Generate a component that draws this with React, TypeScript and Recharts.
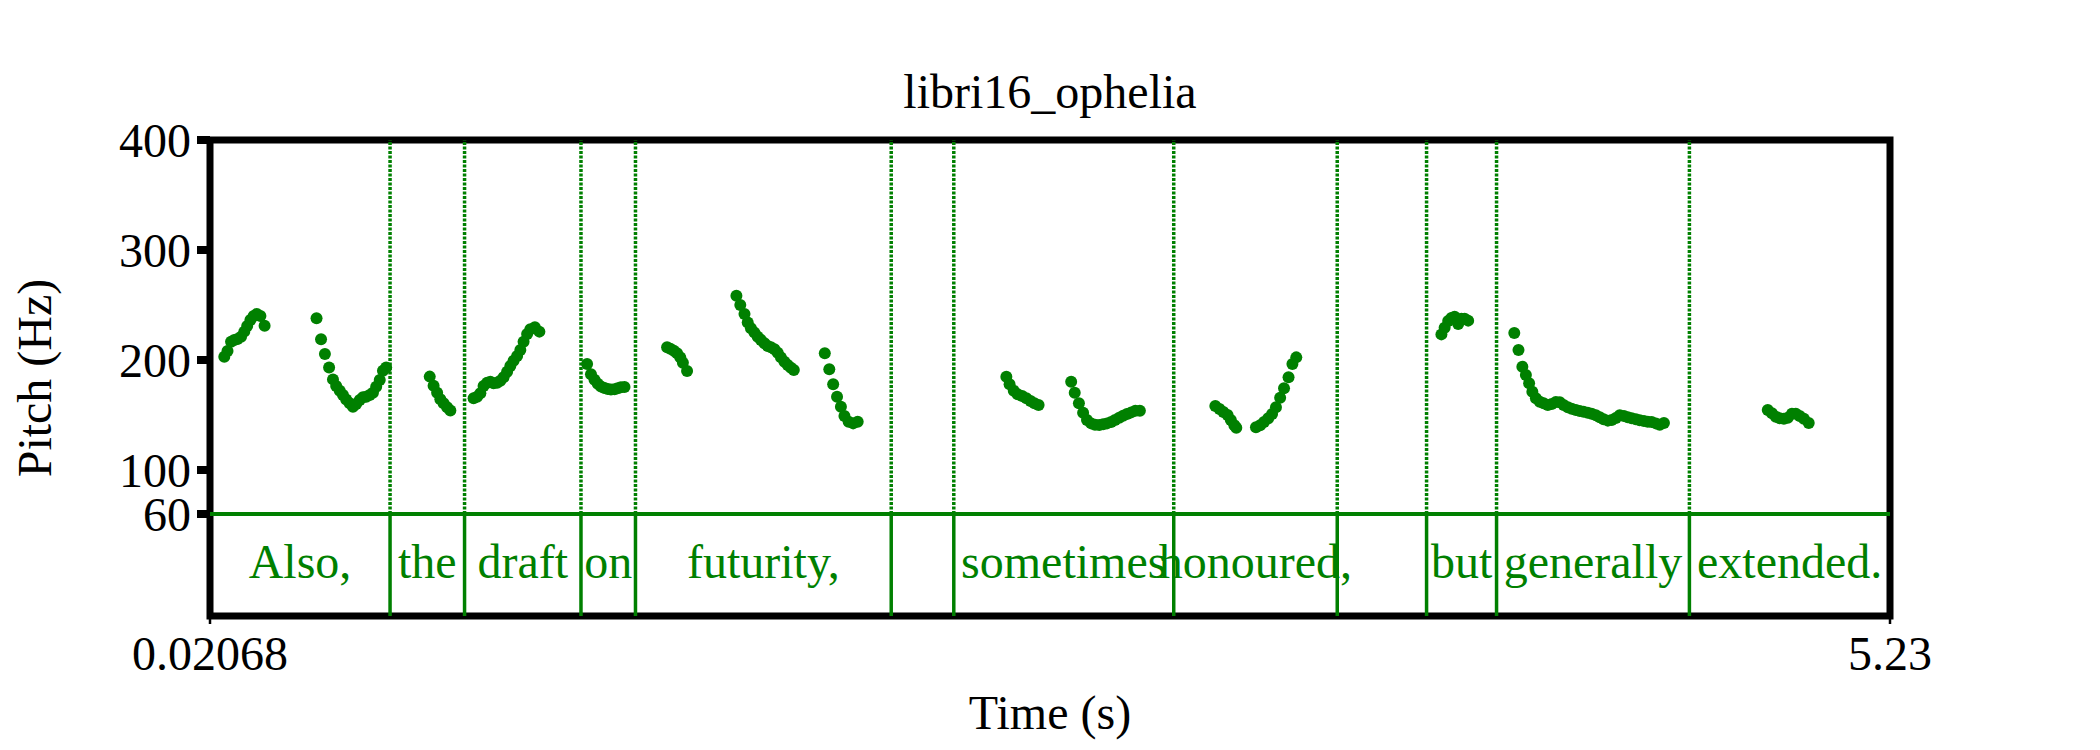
import { ScatterChart, Scatter, XAxis, YAxis, ReferenceLine, ReferenceArea } from "recharts";

const xMin = 0.02068;
const xMax = 5.23;
const yMin = -32.7;
const yMax = 400;
const tierTop = 60;

const yTicks = [60, 100, 200, 300, 400];
const xTicks = [0.02068, 5.23];

const boundaries = [0.579, 0.81, 1.171, 1.34, 2.133, 2.327, 3.009, 3.516, 3.793, 4.01, 4.608];
const words = ["Also,", "the", "draft", "on", "futurity,", "", "sometimes", "honoured,", "", "but", "generally", "extended."];

// pitch contour pieces: [time s, F0 Hz]
const alsoA = [[0.065, 203.0], [0.075, 208.2], [0.086, 216.7], [0.096, 218.2], [0.106, 219.1], [0.117, 221.2], [0.127, 225.8], [0.136, 230.9], [0.146, 236.4], [0.156, 240.0], [0.166, 241.8], [0.177, 240.0], [0.19, 231.2]];
const alsoB = [[0.351, 237.9], [0.365, 218.8], [0.377, 205.5], [0.39, 193.3], [0.402, 182.4], [0.412, 176.4], [0.423, 172.1], [0.433, 168.2], [0.443, 164.2], [0.454, 160.6], [0.464, 157.6], [0.474, 160.0], [0.485, 163.6], [0.495, 166.1], [0.505, 166.7], [0.516, 168.2], [0.526, 170.3], [0.536, 175.8], [0.547, 181.8], [0.557, 190.3], [0.567, 193.3]];
const theSeg = [[0.702, 184.9], [0.714, 176.7], [0.725, 170.3], [0.735, 164.3], [0.745, 160.6], [0.756, 157.0], [0.766, 154.0]];
const draft = [[0.838, 165.2], [0.849, 166.7], [0.859, 169.7], [0.869, 176.4], [0.88, 179.4], [0.89, 180.3], [0.9, 178.8], [0.911, 179.4], [0.921, 181.2], [0.931, 184.3], [0.942, 189.4], [0.952, 194.5], [0.962, 199.4], [0.973, 203.6], [0.983, 209.1], [0.993, 216.7], [1.004, 223.6], [1.014, 227.9], [1.028, 229.7], [1.042, 225.8]];
const onSeg = [[1.19, 196.4], [1.202, 187.0], [1.213, 182.0], [1.223, 178.5], [1.233, 176.0], [1.244, 174.5], [1.254, 173.6], [1.264, 173.3], [1.275, 173.5], [1.285, 174.3], [1.295, 175.3], [1.306, 175.5]];
const futurityA = [[1.438, 211.5], [1.448, 210.3], [1.459, 208.5], [1.469, 206.1], [1.479, 202.4], [1.487, 197.6], [1.5, 190.0]];
const futurityB = [[1.653, 258.5], [1.665, 250.0], [1.678, 241.8], [1.688, 234.0], [1.698, 228.8], [1.709, 224.9], [1.719, 221.2], [1.729, 218.2], [1.74, 215.2], [1.75, 212.7], [1.76, 211.5], [1.771, 209.7], [1.781, 206.7], [1.791, 202.4], [1.802, 198.5], [1.812, 195.5], [1.822, 193.0], [1.831, 190.9]];
const futurityC = [[1.927, 206.1], [1.941, 191.5], [1.953, 177.9], [1.965, 166.7], [1.977, 157.6], [1.988, 149.1], [2.001, 143.9], [2.015, 142.4], [2.029, 143.9]];
const sometimesA = [[2.49, 184.8], [2.5, 177.9], [2.513, 172.1], [2.525, 168.8], [2.539, 167.3], [2.552, 165.2], [2.565, 162.7], [2.577, 160.6], [2.59, 159.1]];
const sometimesB = [[2.691, 180.3], [2.702, 170.3], [2.715, 160.6], [2.728, 152.1], [2.74, 145.5], [2.753, 142.4], [2.765, 141.2], [2.778, 140.9], [2.79, 141.5], [2.802, 142.4], [2.815, 143.6], [2.827, 145.5], [2.84, 147.6], [2.852, 149.4], [2.864, 150.9], [2.877, 152.4], [2.89, 153.9], [2.904, 153.9]];
const honouredA = [[3.138, 158.2], [3.151, 155.5], [3.163, 152.7], [3.176, 150.0], [3.186, 145.5], [3.197, 140.6], [3.203, 138.5]];
const honouredB = [[3.264, 138.8], [3.277, 140.6], [3.289, 143.6], [3.302, 147.0], [3.314, 150.9], [3.326, 157.0], [3.339, 165.8], [3.351, 174.3], [3.365, 184.3], [3.377, 196.4], [3.389, 202.4]];
const butSeg = [[3.839, 223.3], [3.849, 229.4], [3.86, 235.5], [3.87, 238.2], [3.88, 239.4], [3.891, 232.7], [3.901, 237.6], [3.911, 237.6], [3.922, 235.8]];
const generally = [[4.065, 224.6], [4.078, 209.1], [4.09, 193.9], [4.101, 186.4], [4.111, 178.8], [4.121, 171.2], [4.132, 165.2], [4.144, 162.1], [4.156, 160.6], [4.169, 159.1], [4.181, 160.0], [4.194, 161.8], [4.206, 161.5], [4.218, 159.1], [4.231, 157.0], [4.243, 155.8], [4.256, 154.5], [4.268, 153.6], [4.28, 153.0], [4.293, 152.1], [4.305, 151.2], [4.318, 149.7], [4.33, 147.9], [4.342, 146.1], [4.355, 144.9], [4.367, 145.5], [4.38, 147.3], [4.392, 149.7], [4.405, 149.1], [4.417, 147.9], [4.429, 147.0], [4.442, 146.1], [4.454, 145.2], [4.467, 144.6], [4.479, 143.9], [4.491, 143.6], [4.504, 142.4], [4.516, 141.2], [4.529, 142.7]];
const extended = [[4.851, 154.5], [4.864, 151.5], [4.876, 148.5], [4.888, 147.0], [4.901, 146.7], [4.913, 147.6], [4.926, 151.2], [4.938, 151.2], [4.95, 149.1], [4.963, 146.7], [4.978, 142.7]];

const GREEN = "#008000";
const FONT = '"Liberation Serif", "Times New Roman", serif';

const pieces = [alsoA, alsoB, theSeg, draft, onSeg, futurityA, futurityB, futurityC, sometimesA, sometimesB, honouredA, honouredB, butSeg, generally, extended];
const points = pieces.flat().map(([t, hz]) => ({ t, hz }));
const edges = [xMin, ...boundaries, xMax];

const Dot = (props: any) => <circle cx={props.cx} cy={props.cy} r={6} fill={GREEN} />;

export default function App() {
  return (
    <div style={{ position: "absolute", left: 0, top: 0, width: 2100, height: 750, background: "#fff", fontFamily: FONT }}>
      <ScatterChart width={2100} height={750} margin={{ top: 0, right: 210, bottom: 0, left: 0 }}>
        <XAxis
          xAxisId="top"
          orientation="top"
          type="number"
          domain={[xMin, xMax]}
          height={140}
          axisLine={false}
          tickLine={false}
          tick={false}
          label={{ value: "libri16_ophelia", position: "insideTop", offset: 74, fill: "#000", fontSize: 48, fontFamily: FONT }}
        />
        <XAxis
          dataKey="t"
          type="number"
          domain={[xMin, xMax]}
          allowDataOverflow
          ticks={xTicks}
          interval={0}
          height={134}
          axisLine={false}
          tickSize={8}
          tickMargin={12}
          tickLine={{ stroke: "#000", strokeWidth: 2.5 }}
          tick={{ fill: "#000", fontSize: 48, fontFamily: FONT }}
          tickFormatter={(v: number) => String(v)}
          label={{ value: "Time (s)", position: "insideBottom", offset: 21, fill: "#000", fontSize: 48, fontFamily: FONT }}
        />
        <YAxis
          dataKey="hz"
          type="number"
          domain={[yMin, yMax]}
          allowDataOverflow
          ticks={yTicks}
          interval={0}
          width={210}
          axisLine={false}
          tickSize={13}
          tickMargin={6}
          tickLine={{ stroke: "#000", strokeWidth: 8 }}
          tick={{ fill: "#000", fontSize: 48, fontFamily: FONT }}
          label={{
            value: "Pitch (Hz)",
            angle: -90,
            position: "insideLeft",
            offset: 34,
            fill: "#000",
            fontSize: 48,
            fontFamily: FONT,
            style: { textAnchor: "middle" },
          }}
        />
        <ReferenceLine y={tierTop} stroke={GREEN} strokeWidth={4} />
        {boundaries.map((b) => (
          <ReferenceLine key={"s" + b} segment={[{ x: b, y: yMin }, { x: b, y: tierTop }]} stroke={GREEN} strokeWidth={3.5} />
        ))}
        {boundaries.map((b) => (
          <ReferenceLine
            key={"d" + b}
            segment={[{ x: b, y: tierTop }, { x: b, y: yMax }]}
            stroke={GREEN}
            strokeWidth={3.5}
            strokeDasharray="3 1.5"
          />
        ))}
        {words.map((w, i) => (
          <ReferenceArea
            key={"w" + i}
            x1={edges[i]}
            x2={edges[i + 1]}
            y1={-26}
            y2={tierTop}
            fill="none"
            stroke="none"
            ifOverflow="visible"
            label={{ value: w, position: "center", fill: GREEN, fontSize: 48, fontFamily: FONT }}
          />
        ))}
        <ReferenceArea
          x1={xMin}
          x2={xMax}
          y1={yMin}
          y2={yMax}
          fill="none"
          stroke="#000"
          strokeWidth={7}
          ifOverflow="visible"
        />
        <Scatter data={points} shape={Dot} isAnimationActive={false} />
      </ScatterChart>
    </div>
  );
}
